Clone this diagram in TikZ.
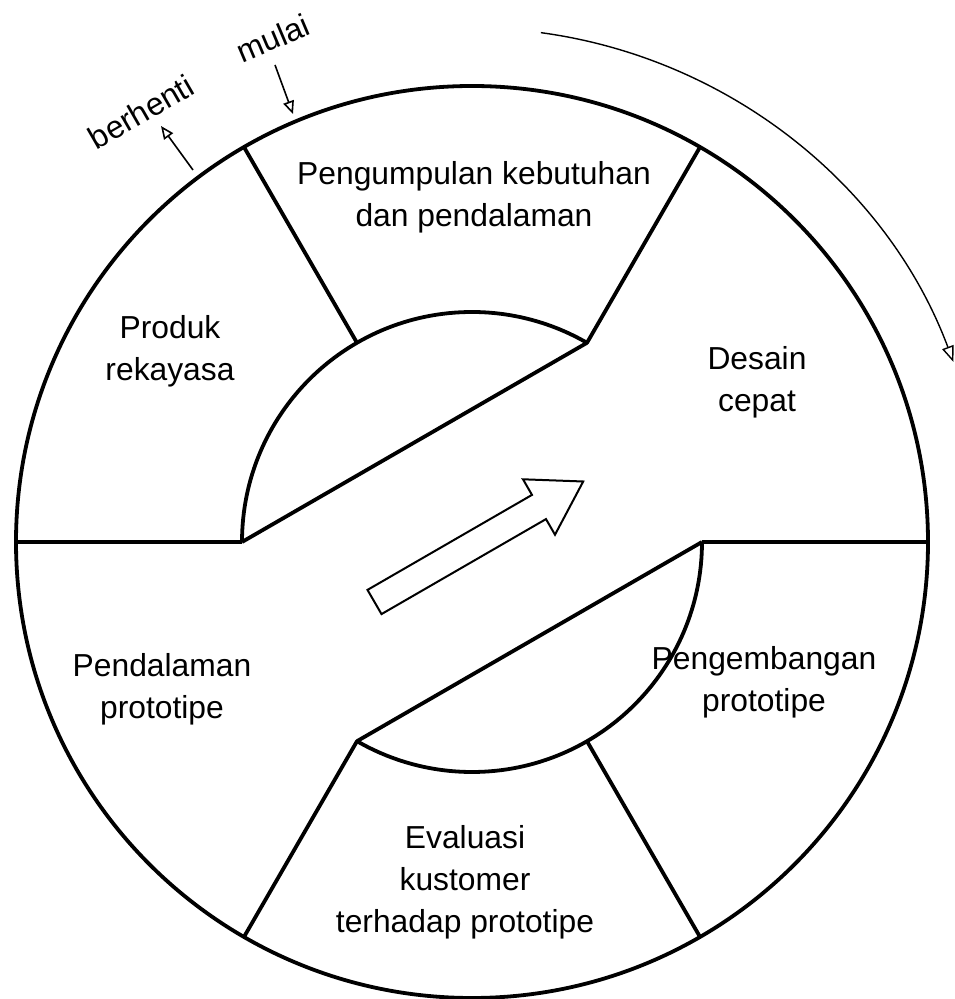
\documentclass[tikz,border=0pt]{standalone}
\usepackage{fontspec}
\setmainfont{Liberation Sans}
\usetikzlibrary{arrows.meta,calc}
\begin{document}
\begin{tikzpicture}[x=1pt,y=1pt,
  heavy/.style={line width=3.8pt,line join=round},
  lbl/.style={align=center,font=\fontsize{31.8}{42}\selectfont,inner sep=0pt},
  thinarc/.style={line width=1.4pt,-{Triangle[open,length=16pt,width=12pt,line width=1.4pt]}},
  smallarr/.style={line width=1.6pt,-{Triangle[open,length=13pt,width=11pt,line width=1.6pt]}}]
\useasboundingbox (0,0) rectangle (954,999);
\coordinate (C) at (472,457);
\def\Ro{456}
\def\Ri{230}
% outer circle
\draw[heavy] (C) circle (\Ro);
% horizontal dividers
\draw[heavy] ($(C)+(180:\Ro)$) coordinate (L1) -- ($(C)+(180:\Ri)$) coordinate (L2);
\draw[heavy] ($(C)+(0:\Ri)$) coordinate (R2) -- ($(C)+(0:\Ro)$) coordinate (R1);
% radial dividers
\foreach \a in {60,120,240,300}{
  \draw[heavy] ($(C)+(\a:\Ri)$) -- ($(C)+(\a:\Ro)$);
}
% upper inner half: arc + chord
\draw[heavy] (L2) arc[start angle=180,end angle=60,radius=\Ri] coordinate (U60) -- (L2);
% lower inner half: arc + chord
\draw[heavy] (R2) arc[start angle=0,end angle=-120,radius=\Ri] coordinate (D240) -- (R2);
% outer progress arc with arrow
\draw[thinarc] ($(C)+(82.3:514)$) arc[start angle=82.3,end angle=20.5,radius=514];
% central hollow arrow
\draw[line width=2pt,line join=miter] (367.5,409.1) -- (532,504.1) -- (523,519.7) -- (583.2,517.5)
  -- (555,464.3) -- (546,479.9) -- (381.5,384.9) -- cycle;
% mulai / berhenti
\node[lbl,rotate=23] (mulai) at (273,961) {mulai};
\node[lbl,rotate=30] (berhenti) at (141,887) {berhenti};
\coordinate (ma) at (275,934);
\coordinate (mb) at (293,885);
\draw[smallarr] (ma) -- (mb);
\coordinate (ba) at (193,829);
\coordinate (bb) at (161,873);
\draw[smallarr] (ba) -- (bb);
% sector labels
\node[lbl] (s1) at (474,802) {Pengumpulan kebutuhan\\dan pendalaman};
\node[lbl] (s2) at (170,648) {Produk\\rekayasa};
\node[lbl] (s3) at (757,617) {Desain\\cepat};
\node[lbl] (s4) at (764,317) {Pengembangan\\prototipe};
\node[lbl] (s5) at (162,310) {Pendalaman\\prototipe};
\node[lbl] (s6) at (465,117) {Evaluasi\\kustomer\\terhadap prototipe};
\end{tikzpicture}
\end{document}
